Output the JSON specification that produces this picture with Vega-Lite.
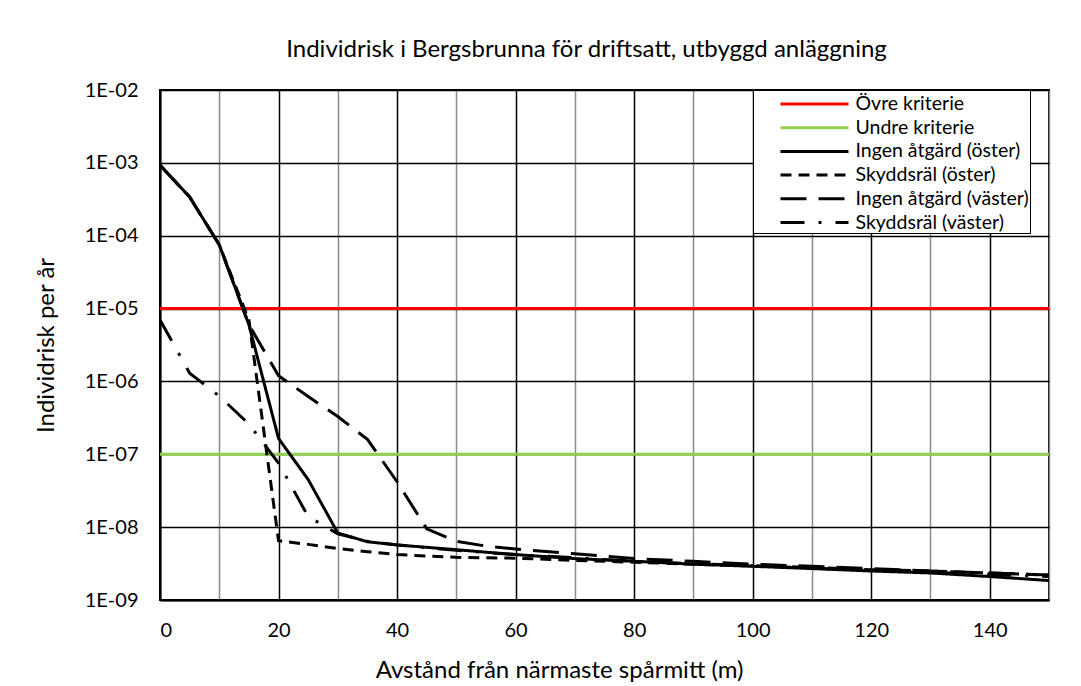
{
  "$schema": "https://vega.github.io/schema/vega-lite/v6.json",
  "width": 889,
  "height": 510,
  "autosize": {"type": "none"},
  "padding": {"left": 160, "top": 90, "right": 32, "bottom": 86},
  "background": "white",
  "title": {
    "text": "Individrisk i Bergsbrunna för driftsatt, utbyggd anläggning",
    "font": "Lato", "fontSize": 24, "fontWeight": "normal", "color": "black",
    "anchor": "middle", "baseline": "alphabetic", "offset": 3, "dx": -18, "dy": 4
  },
  "config": {
    "view": {"stroke": "black", "strokeWidth": 2},
    "axis": {
      "labelFont": "Lato", "labelFontSize": 20, "labelColor": "black",
      "titleFont": "Lato", "titleFontSize": 24, "titleFontWeight": "normal", "titleColor": "black",
      "ticks": false, "domainColor": "black", "domainWidth": 2, "gridWidth": 1.5, "gridOpacity": 1
    }
  },
  "data": {
    "values": [
      {"serie": "Övre kriterie", "x": 0, "y": 1e-5},
      {"serie": "Övre kriterie", "x": 150, "y": 1e-5},
      {"serie": "Undre kriterie", "x": 0, "y": 1e-7},
      {"serie": "Undre kriterie", "x": 150, "y": 1e-7},

      {"serie": "Ingen åtgärd (öster)", "x": 0, "y": 9.3e-4},
      {"serie": "Ingen åtgärd (öster)", "x": 5, "y": 3.4e-4},
      {"serie": "Ingen åtgärd (öster)", "x": 10, "y": 7.5e-5},
      {"serie": "Ingen åtgärd (öster)", "x": 15, "y": 6e-6},
      {"serie": "Ingen åtgärd (öster)", "x": 20, "y": 1.65e-7},
      {"serie": "Ingen åtgärd (öster)", "x": 25, "y": 4.5e-8},
      {"serie": "Ingen åtgärd (öster)", "x": 30, "y": 8.3e-9},
      {"serie": "Ingen åtgärd (öster)", "x": 35, "y": 6.3e-9},
      {"serie": "Ingen åtgärd (öster)", "x": 40, "y": 5.7e-9},
      {"serie": "Ingen åtgärd (öster)", "x": 50, "y": 4.9e-9},
      {"serie": "Ingen åtgärd (öster)", "x": 60, "y": 4.2e-9},
      {"serie": "Ingen åtgärd (öster)", "x": 70, "y": 3.7e-9},
      {"serie": "Ingen åtgärd (öster)", "x": 80, "y": 3.4e-9},
      {"serie": "Ingen åtgärd (öster)", "x": 90, "y": 3.1e-9},
      {"serie": "Ingen åtgärd (öster)", "x": 100, "y": 2.9e-9},
      {"serie": "Ingen åtgärd (öster)", "x": 110, "y": 2.7e-9},
      {"serie": "Ingen åtgärd (öster)", "x": 120, "y": 2.5e-9},
      {"serie": "Ingen åtgärd (öster)", "x": 130, "y": 2.35e-9},
      {"serie": "Ingen åtgärd (öster)", "x": 140, "y": 2.1e-9},
      {"serie": "Ingen åtgärd (öster)", "x": 150, "y": 1.85e-9},

      {"serie": "Skyddsräl (öster)", "x": 0, "y": 9.3e-4},
      {"serie": "Skyddsräl (öster)", "x": 5, "y": 3.4e-4},
      {"serie": "Skyddsräl (öster)", "x": 10, "y": 7.5e-5},
      {"serie": "Skyddsräl (öster)", "x": 15, "y": 7e-6},
      {"serie": "Skyddsräl (öster)", "x": 20, "y": 6.5e-9},
      {"serie": "Skyddsräl (öster)", "x": 25, "y": 5.8e-9},
      {"serie": "Skyddsräl (öster)", "x": 30, "y": 5.1e-9},
      {"serie": "Skyddsräl (öster)", "x": 35, "y": 4.6e-9},
      {"serie": "Skyddsräl (öster)", "x": 40, "y": 4.2e-9},
      {"serie": "Skyddsräl (öster)", "x": 50, "y": 3.85e-9},
      {"serie": "Skyddsräl (öster)", "x": 60, "y": 3.75e-9},
      {"serie": "Skyddsräl (öster)", "x": 70, "y": 3.5e-9},
      {"serie": "Skyddsräl (öster)", "x": 80, "y": 3.3e-9},
      {"serie": "Skyddsräl (öster)", "x": 90, "y": 3.1e-9},
      {"serie": "Skyddsräl (öster)", "x": 100, "y": 2.95e-9},
      {"serie": "Skyddsräl (öster)", "x": 110, "y": 2.8e-9},
      {"serie": "Skyddsräl (öster)", "x": 120, "y": 2.6e-9},
      {"serie": "Skyddsräl (öster)", "x": 130, "y": 2.5e-9},
      {"serie": "Skyddsräl (öster)", "x": 140, "y": 2.35e-9},
      {"serie": "Skyddsräl (öster)", "x": 150, "y": 2.2e-9},

      {"serie": "Ingen åtgärd (väster)", "x": 0, "y": 9.3e-4},
      {"serie": "Ingen åtgärd (väster)", "x": 5, "y": 3.4e-4},
      {"serie": "Ingen åtgärd (väster)", "x": 10, "y": 7.5e-5},
      {"serie": "Ingen åtgärd (väster)", "x": 15, "y": 6e-6},
      {"serie": "Ingen åtgärd (väster)", "x": 20, "y": 1.2e-6},
      {"serie": "Ingen åtgärd (väster)", "x": 25, "y": 6.2e-7},
      {"serie": "Ingen åtgärd (väster)", "x": 30, "y": 3.3e-7},
      {"serie": "Ingen åtgärd (väster)", "x": 35, "y": 1.6e-7},
      {"serie": "Ingen åtgärd (väster)", "x": 40, "y": 4.2e-8},
      {"serie": "Ingen åtgärd (väster)", "x": 45, "y": 9.5e-9},
      {"serie": "Ingen åtgärd (väster)", "x": 50, "y": 6.4e-9},
      {"serie": "Ingen åtgärd (väster)", "x": 55, "y": 5.5e-9},
      {"serie": "Ingen åtgärd (väster)", "x": 60, "y": 5e-9},
      {"serie": "Ingen åtgärd (väster)", "x": 70, "y": 4.3e-9},
      {"serie": "Ingen åtgärd (väster)", "x": 80, "y": 3.7e-9},
      {"serie": "Ingen åtgärd (väster)", "x": 90, "y": 3.4e-9},
      {"serie": "Ingen åtgärd (väster)", "x": 100, "y": 3.1e-9},
      {"serie": "Ingen åtgärd (väster)", "x": 110, "y": 2.9e-9},
      {"serie": "Ingen åtgärd (väster)", "x": 120, "y": 2.7e-9},
      {"serie": "Ingen åtgärd (väster)", "x": 130, "y": 2.5e-9},
      {"serie": "Ingen åtgärd (väster)", "x": 140, "y": 2.35e-9},
      {"serie": "Ingen åtgärd (väster)", "x": 150, "y": 2.2e-9},

      {"serie": "Skyddsräl (väster)", "x": 0, "y": 7e-6},
      {"serie": "Skyddsräl (väster)", "x": 5, "y": 1.3e-6},
      {"serie": "Skyddsräl (väster)", "x": 10, "y": 6.3e-7},
      {"serie": "Skyddsräl (väster)", "x": 15, "y": 2.6e-7},
      {"serie": "Skyddsräl (väster)", "x": 20, "y": 7.6e-8},
      {"serie": "Skyddsräl (väster)", "x": 25, "y": 1.4e-8},
      {"serie": "Skyddsräl (väster)", "x": 30, "y": 8.1e-9},
      {"serie": "Skyddsräl (väster)", "x": 35, "y": 6.4e-9},
      {"serie": "Skyddsräl (väster)", "x": 40, "y": 5.7e-9},
      {"serie": "Skyddsräl (väster)", "x": 50, "y": 4.8e-9},
      {"serie": "Skyddsräl (väster)", "x": 60, "y": 4.2e-9},
      {"serie": "Skyddsräl (väster)", "x": 70, "y": 3.8e-9},
      {"serie": "Skyddsräl (väster)", "x": 80, "y": 3.4e-9},
      {"serie": "Skyddsräl (väster)", "x": 90, "y": 3.15e-9},
      {"serie": "Skyddsräl (väster)", "x": 100, "y": 2.95e-9},
      {"serie": "Skyddsräl (väster)", "x": 110, "y": 2.75e-9},
      {"serie": "Skyddsräl (väster)", "x": 120, "y": 2.55e-9},
      {"serie": "Skyddsräl (väster)", "x": 130, "y": 2.4e-9},
      {"serie": "Skyddsräl (väster)", "x": 140, "y": 2.25e-9},
      {"serie": "Skyddsräl (väster)", "x": 150, "y": 2.1e-9}
    ]
  },
  "mark": {"type": "line", "strokeWidth": 3, "clip": true},
  "encoding": {
    "x": {
      "field": "x", "type": "quantitative",
      "scale": {"domain": [0, 150], "nice": false},
      "axis": {
        "title": "Avstånd från närmaste spårmitt (m)",
        "values": [0, 10, 20, 30, 40, 50, 60, 70, 80, 90, 100, 110, 120, 130, 140, 150],
        "labelExpr": "datum.value % 20 === 0 ? datum.label : ''",
        "labelPadding": 20, "titlePadding": 18, "titleX": 399,
        "gridColor": {"condition": {"test": "datum.value % 20 === 10", "value": "#8c8c8c"}, "value": "black"}
      }
    },
    "y": {
      "field": "y", "type": "quantitative",
      "scale": {"type": "log", "domain": [1e-9, 1e-2], "nice": false},
      "axis": {
        "title": "Individrisk per år",
        "values": [1e-9, 1e-8, 1e-7, 1e-6, 1e-5, 1e-4, 1e-3, 1e-2],
        "labelExpr": "'1E-0' + round(-log(datum.value) / LN10)",
        "labelPadding": 22, "titlePadding": 26, "gridColor": "black"
      }
    },
    "color": {
      "field": "serie", "type": "nominal",
      "scale": {
        "domain": ["Övre kriterie", "Undre kriterie", "Ingen åtgärd (öster)", "Skyddsräl (öster)", "Ingen åtgärd (väster)", "Skyddsräl (väster)"],
        "range": ["#ff0000", "#92d050", "black", "black", "black", "black"]
      },
      "legend": {
        "orient": "none", "legendX": 593, "legendY": 0, "title": null,
        "symbolType": "M-3,0H3", "symbolSize": 514, "symbolStrokeWidth": 3, "symbolOffset": 47.5,
        "labelFont": "Lato", "labelFontSize": 19.5, "labelColor": "black", "labelOffset": 28,
        "labelLimit": 400,
        "strokeColor": "black", "fillColor": "white", "padding": 1, "rowPadding": 0.7
      }
    },
    "strokeDash": {
      "field": "serie", "type": "nominal",
      "scale": {
        "domain": ["Övre kriterie", "Undre kriterie", "Ingen åtgärd (öster)", "Skyddsräl (öster)", "Ingen åtgärd (väster)", "Skyddsräl (väster)"],
        "range": [[1, 0], [1, 0], [1, 0], [11, 7], [26, 12], [24, 14, 3, 14]]
      },
      "legend": {
        "orient": "none", "legendX": 593, "legendY": 0, "title": null,
        "symbolType": "M-3,0H3", "symbolSize": 514, "symbolStrokeWidth": 3, "symbolOffset": 47.5,
        "labelFont": "Lato", "labelFontSize": 19.5, "labelColor": "black", "labelOffset": 28,
        "labelLimit": 400,
        "strokeColor": "black", "fillColor": "white", "padding": 1, "rowPadding": 0.7
      }
    }
  }
}
